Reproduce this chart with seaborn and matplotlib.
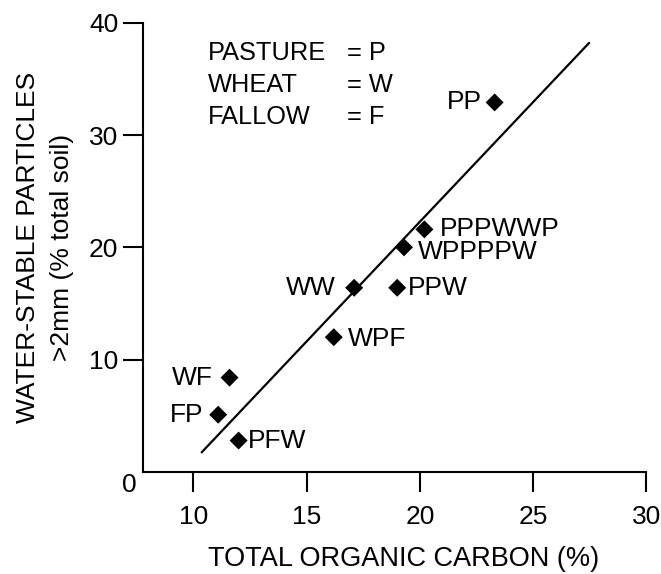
import matplotlib
matplotlib.use("Agg")
import matplotlib.pyplot as plt
import seaborn as sns
import pandas as pd

# ---- data ----
labels = ["PP", "PPPWWP", "WPPPPW", "PPW", "WW", "WPF", "WF", "FP", "PFW"]
carbon = [23.3, 20.2, 19.3, 19.0, 17.1, 16.2, 11.6, 11.1, 12.0]
particles = [32.9, 21.6, 20.0, 16.4, 16.4, 12.0, 8.4, 5.1, 2.8]
fit_x = [10.37, 27.47]
fit_y = [1.75, 38.2]
x_ticks = [10, 15, 20, 25, 30]
y_ticks = [10, 20, 30, 40]
legend_names = ["PASTURE", "WHEAT", "FALLOW"]
legend_codes = ["P", "W", "F"]

# label offsets (points) and alignment
label_offsets = {
    "PP": (-9, 0, "right"), "PPPWWP": (11, 0, "left"), "WPPPPW": (10, -3, "left"),
    "PPW": (8, 0, "left"), "WW": (-13, 0, "right"), "WPF": (10, -1, "left"),
    "WF": (-12, 0, "right"), "FP": (-11, 0, "right"), "PFW": (7, 0, "left"),
}

sns.set_style("ticks")
plt.rcParams["font.family"] = ["Liberation Sans", "DejaVu Sans"]
plt.rcParams["text.color"] = "black"
plt.rcParams["axes.labelcolor"] = "black"
plt.rcParams["xtick.color"] = "black"
plt.rcParams["ytick.color"] = "black"

df = pd.DataFrame({"carbon": carbon, "particles": particles, "label": labels})
fit = pd.DataFrame({"x": fit_x, "y": fit_y})

fig = plt.figure(figsize=(6.61, 5.74), dpi=100)
ax = fig.add_axes([0.217, 0.1777, 0.761, 0.7828])

sns.lineplot(data=fit, x="x", y="y", ax=ax, color="black", linewidth=1.6)
sns.scatterplot(data=df, x="carbon", y="particles", ax=ax, marker="D", s=84,
                color="black", edgecolor="none", zorder=3)

for lab, xv, yv in zip(labels, carbon, particles):
    dx, dy, ha = label_offsets[lab]
    ax.annotate(lab, xy=(xv, yv), xytext=(dx, dy), textcoords="offset points",
                ha=ha, va="center", fontsize=19, color="black")

ax.set_xlim(7.8, 30)
ax.set_ylim(0, 40)
ax.set_xticks(x_ticks)
ax.set_yticks(y_ticks)
ax.tick_params(axis="both", direction="out", length=14.5, width=1.5,
               labelsize=19, color="black", labelcolor="black")
ax.tick_params(axis="x", pad=9)
ax.tick_params(axis="y", pad=3.5)
ax.annotate("0", xy=(0, 0), xycoords="axes fraction", xytext=(-5, -0.5),
            textcoords="offset points", ha="right", va="top", fontsize=19,
            color="black")

for side in ["top", "right"]:
    ax.spines[side].set_visible(False)
for side in ["left", "bottom"]:
    ax.spines[side].set_linewidth(1.5)
    ax.spines[side].set_color("black")

ax.set_xlabel("TOTAL ORGANIC CARBON (%)", fontsize=19.5, color="black")
ax.xaxis.set_label_coords(0.518, -0.165)
ax.set_ylabel("WATER-STABLE PARTICLES\n>2mm (% total soil)", fontsize=19,
              linespacing=1.55, color="black")
ax.yaxis.set_label_coords(-0.138, 0.5)

# legend-like key text
for i, (nm, cd) in enumerate(zip(legend_names, legend_codes)):
    ytxt = 0.932 - i * 0.0715
    ax.text(0.128, ytxt, nm, transform=ax.transAxes, fontsize=18.3,
            ha="left", va="center", color="black")
    ax.text(0.405, ytxt, "= " + cd, transform=ax.transAxes, fontsize=18.3,
            ha="left", va="center", color="black")

fig.savefig("out.png", dpi=100, facecolor="white")
